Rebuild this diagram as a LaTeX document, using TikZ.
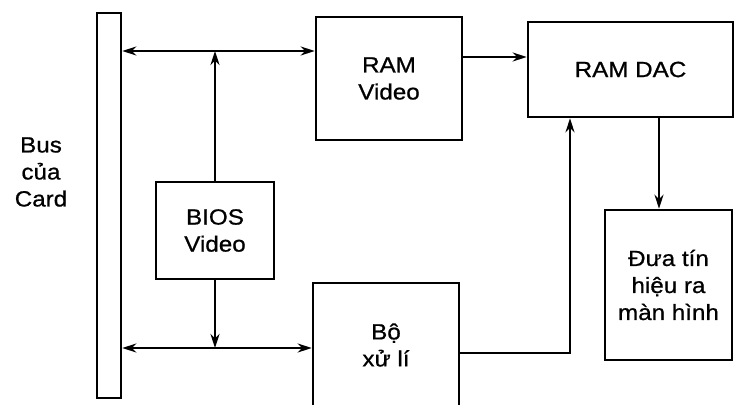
\documentclass[tikz,border=0pt]{standalone}
\usepackage{fontspec}
\setmainfont[FakeStretch=1.1, FakeBold=0.8]{Liberation Sans}
\usetikzlibrary{positioning, arrows.meta, calc}

\begin{document}
\begin{tikzpicture}[x=1pt, y=-1pt,
    block/.style={draw, line width=2.6pt, inner sep=0pt, align=center,
                  font=\fontsize{22}{27}\selectfont},
    link/.style={line width=2.4pt, >={Stealth[length=14pt,width=9pt]}}]
    \useasboundingbox (0,0) rectangle (735,404);
    \clip (0,0) rectangle (735,404);

    % Bus bar and its label
    \node[block, minimum width=24pt, minimum height=385pt] (bus) at (109,205.5) {};
    \node[align=center, font=\fontsize{22}{27}\selectfont] (buslabel) at (41,172) {Bus\\của\\Card};

    % Blocks
    \node[block, minimum width=146pt, minimum height=123pt] (ramvid) at (389,78.5) {RAM\\Video};
    \node[block, minimum width=205pt, minimum height=95pt] (ramdac) at (630.5,69.5) {RAM DAC};
    \node[block, minimum width=118pt, minimum height=97pt] (bios) at (215,230.5) {BIOS\\Video};
    \node[block, minimum width=146pt, minimum height=124pt] (cpu) at (386,345) {Bộ\\xử lí};
    \node[block, minimum width=127pt, minimum height=150pt] (output) at (668.5,285) {Đưa tín\\hiệu ra\\màn hình};

    % Junctions
    \coordinate (jtop) at (bios.north |- 0,51);
    \coordinate (jbot) at (bios.south |- 0,348);
    \coordinate (ramout) at (ramvid.east |- 0,57);
    \coordinate (cpuout) at (cpu.east |- 0,353);
    \coordinate (dacin) at (570,353);
    \coordinate (dacout) at (659,0);

    % Connectors
    \draw[link, <->] (bus.east |- jtop) -- (ramvid.west |- jtop);
    \draw[link, ->] (bios.north) -- (jtop);
    \draw[link, ->] (ramout) -- (ramdac.west |- ramout);
    \draw[link, ->] (bios.south) -- (jbot);
    \draw[link, <->] (bus.east |- jbot) -- (cpu.west |- jbot);
    \draw[link, ->] (cpuout) -- (dacin) -- (ramdac.south -| dacin);
    \draw[link, ->] (ramdac.south -| dacout) -- (output.north -| dacout);
\end{tikzpicture}
\end{document}
